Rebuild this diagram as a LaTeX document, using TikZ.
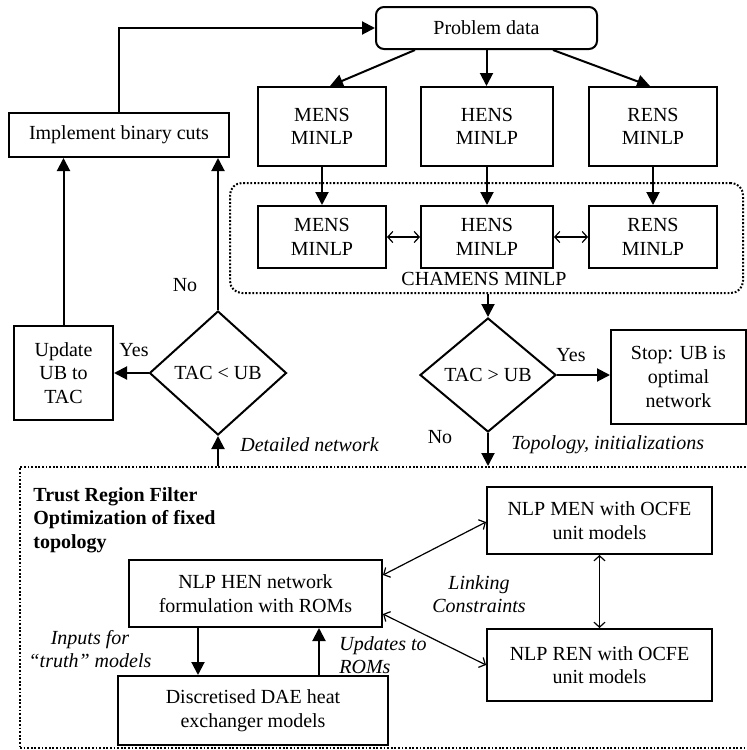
\documentclass[tikz,border=0pt]{standalone}
\usepackage{fontspec}
\setmainfont{Liberation Serif}
\usetikzlibrary{arrows.meta,shapes.geometric}
\newcommand{\fs}{\fontsize{10pt}{11.8pt}\selectfont}

\begin{document}
\begin{tikzpicture}[x=0.5pt,y=-0.5pt,
  box/.style={draw, line width=1pt, align=center, inner sep=0pt, font=\fs},
  dec/.style={draw, diamond, line width=1pt, inner sep=0pt, font=\fs},
  arr/.style={line width=1pt, -{Triangle[length=6.5pt,width=6.5pt]}},
  biarr/.style={line width=0.6pt, {Straight Barb[length=2.5pt,width=5.5pt]}-{Straight Barb[length=2.5pt,width=5.5pt]}},
  lbl/.style={inner sep=0pt, font=\fs, align=center},
  ilbl/.style={inner sep=0pt, font=\fs\itshape, align=center},
  dotbox/.style={draw, line width=1pt, dash pattern=on 0.9pt off 0.9pt, inner sep=0pt}
]
\useasboundingbox (0,0) rectangle (747,750);

% --- combined MINLP stage ---
\node[dotbox, rounded corners=6pt, minimum width=256.5pt, minimum height=55pt] (cham) at (486.5,238) {};
\node[lbl] (chamlbl) at (484,279) {CHAMENS MINLP};

\node[box, rounded corners=4pt, minimum width=110.5pt, minimum height=21pt] (pd) at (486.5,28) {Problem data};
\node[box, minimum width=64pt, minimum height=39.5pt] (mens1) at (322,126.5) {MENS\\MINLP};
\node[box, minimum width=66pt, minimum height=39.5pt] (hens1) at (487,126.5) {HENS\\MINLP};
\node[box, minimum width=64pt, minimum height=39.5pt] (rens1) at (653,126.5) {RENS\\MINLP};
\node[box, minimum width=64pt, minimum height=31pt] (mens2) at (322,237) {MENS\\MINLP};
\node[box, minimum width=66pt, minimum height=31pt] (hens2) at (487,237) {HENS\\MINLP};
\node[box, minimum width=64pt, minimum height=31pt] (rens2) at (653,237) {RENS\\MINLP};

% --- decision loop ---
\node[box, minimum width=110pt, minimum height=22pt] (bc) at (119,135) {Implement binary cuts};
\node[box, minimum width=49.5pt, minimum height=47pt] (upd) at (63.5,373) {Update\\UB to\\TAC};
\node[dec, minimum width=68.5pt, minimum height=62pt] (d1) at (218,373) {TAC < UB};
\node[dec, minimum width=68pt, minimum height=57pt] (d2) at (488,375) {TAC > UB};
\node[box, minimum width=67.5pt, minimum height=47pt] (stop) at (678.5,377) {Stop: UB is\\optimal\\network};

% --- trust region stage ---
\node[dotbox, minimum width=365pt, minimum height=140.5pt] (trust) at (385,607.5) {};
\node[lbl, font=\fs\bfseries, align=left, anchor=north west] (ttl) at (33,487) {Trust Region Filter\\Optimization of fixed\\topology};
\node[box, minimum width=112.5pt, minimum height=33.5pt] (men) at (599.5,520.5) {NLP MEN with OCFE\\unit models};
\node[box, minimum width=112.5pt, minimum height=36pt] (ren) at (599.5,665) {NLP REN with OCFE\\unit models};
\node[box, minimum width=126.5pt, minimum height=33.5pt] (hen) at (255.5,593.5) {NLP HEN network\\formulation with ROMs};
\node[box, minimum width=135pt, minimum height=34.5pt] (dae) at (253,710.5) {Discretised DAE heat\\exchanger models};

% --- labels ---
\node[lbl] (yes1) at (134,350) {Yes};
\node[lbl] (no1) at (185,285) {No};
\node[lbl] (yes2) at (571,355) {Yes};
\node[lbl] (no2) at (440,437) {No};
\node[ilbl, anchor=west] (detl) at (240,445) {Detailed network};
\node[ilbl, anchor=west] (topl) at (511,445) {Topology, initializations};
\node[ilbl] (link) at (479,594) {Linking\\Constraints};
\node[ilbl, align=left, anchor=west] (upl) at (339,655) {Updates to\\ROMs};
\node[ilbl] (inl) at (90,649) {Inputs for\\“truth” models};

% --- connectors ---
\draw[arr] (bc.north) |- (pd.west);
\draw[arr] ([xshift=-35.75pt]pd.south) -- ([xshift=4pt]mens1.north);
\draw[arr] (pd.south) -- (pd.south |- hens1.north);
\draw[arr] ([xshift=33.25pt]pd.south) -- ([xshift=-1.5pt]rens1.north);
\draw[arr] (mens1.south) -- (mens2.north);
\draw[arr] (hens1.south) -- (hens2.north);
\draw[arr] (rens1.south) -- (rens2.north);
\draw[biarr] (mens2.east) -- (hens2.west);
\draw[biarr] (hens2.east) -- (rens2.west);
\draw[arr] (d2.north |- cham.south) -- (d2.north);
\draw[arr] (d2.east) -- (d2.east -| stop.west);
\draw[arr] (d2.south) -- (d2.south |- trust.north);
\draw[arr] (d1.south |- trust.north) -- (d1.south);
\draw[arr] (d1.north) -- (d1.north |- bc.south);
\draw[arr] (d1.west) -- (d1.west -| upd.east);
\draw[arr] (upd.north) -- (upd.north |- bc.south);
\draw[biarr] ([yshift=9.25pt]hen.east) -- ([yshift=-0.75pt]men.west);
\draw[biarr] ([yshift=-10.25pt]hen.east) -- (ren.west);
\draw[biarr] (men.south) -- (ren.north);
\draw[arr] ([xshift=-28.75pt]hen.south) -- ([xshift=-28.75pt]hen.south |- dae.north);
\draw[arr] ([xshift=31.75pt]hen.south |- dae.north) -- ([xshift=31.75pt]hen.south);
\end{tikzpicture}
\end{document}
